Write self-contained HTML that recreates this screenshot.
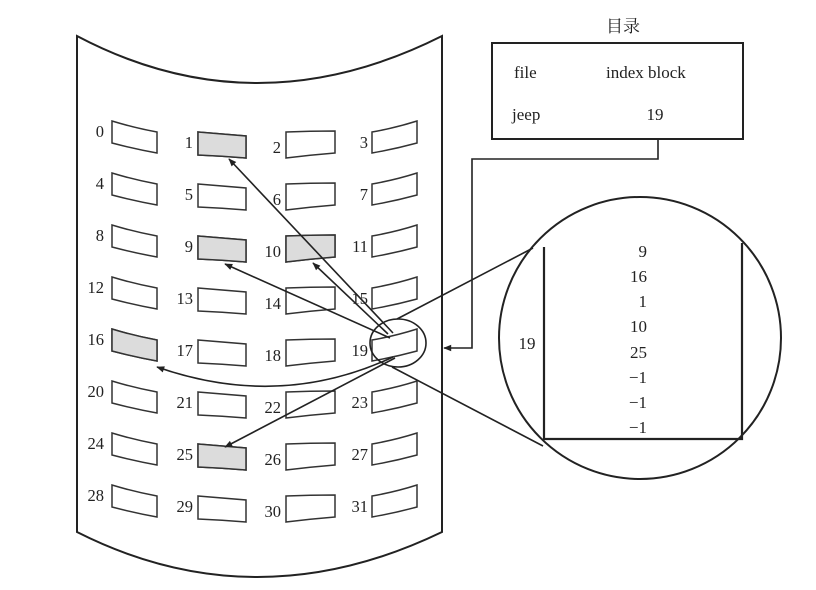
<!DOCTYPE html>
<html><head><meta charset="utf-8"><style>
html,body{margin:0;padding:0;background:#fff;}
svg{display:block;}
text{font-family:"Liberation Serif","Noto Serif CJK SC",serif;fill:#222;}
</style></head><body>
<svg width="816" height="590" viewBox="0 0 816 590" xmlns="http://www.w3.org/2000/svg">
<defs>
<marker id="ar" viewBox="0 0 10 10" refX="9" refY="5" markerWidth="12" markerHeight="8" orient="auto" markerUnits="userSpaceOnUse">
<path d="M0,1 L10,5 L0,9 z" fill="#222"/></marker>
<g id="row">
<path d="M112,0 Q135,7 157,11 L157,32 Q135,28 112,22 Z" fill="#fff"/>
<path d="M198,11 Q222,13 246,15 L246,37 Q222,35 198,34 Z" fill="#fff"/>
<path d="M286,11 Q310,10 335,10 L335,32 Q310,34 286,37 Z" fill="#fff"/>
<path d="M372,11 Q395,7 417,0 L417,22 Q395,28 372,32 Z" fill="#fff"/>
</g>
</defs>
<g stroke="#222" stroke-width="2" fill="none">
<path d="M77,36 Q255,130 442,36 L442,532 Q255,622 77,532 Z"/>
</g>
<g stroke="#333" stroke-width="1.5">
<use href="#row" y="121"/><use href="#row" y="173"/><use href="#row" y="225"/><use href="#row" y="277"/>
<use href="#row" y="329"/><use href="#row" y="381"/><use href="#row" y="433"/><use href="#row" y="485"/>
</g>
<g stroke="#333" stroke-width="1.5" fill="#dcdcdc">
<path d="M198,132 Q222,134 246,136 L246,158 Q222,156 198,155 Z"/>
<path d="M198,236 Q222,238 246,240 L246,262 Q222,260 198,259 Z"/>
<path d="M286,236 Q310,235 335,235 L335,257 Q310,259 286,262 Z"/>
<path d="M112,329 Q135,336 157,340 L157,361 Q135,357 112,351 Z"/>
<path d="M198,444 Q222,446 246,448 L246,470 Q222,468 198,467 Z"/>
</g>
<g font-size="16.5" text-anchor="end">
<text x="104" y="137">0</text><text x="193" y="148">1</text><text x="281" y="153">2</text><text x="368" y="148">3</text>
<text x="104" y="189">4</text><text x="193" y="200">5</text><text x="281" y="205">6</text><text x="368" y="200">7</text>
<text x="104" y="241">8</text><text x="193" y="252">9</text><text x="281" y="257">10</text><text x="368" y="252">11</text>
<text x="104" y="293">12</text><text x="193" y="304">13</text><text x="281" y="309">14</text><text x="368" y="304">15</text>
<text x="104" y="345">16</text><text x="193" y="356">17</text><text x="281" y="361">18</text><text x="368" y="356">19</text>
<text x="104" y="397">20</text><text x="193" y="408">21</text><text x="281" y="413">22</text><text x="368" y="408">23</text>
<text x="104" y="449">24</text><text x="193" y="460">25</text><text x="281" y="465">26</text><text x="368" y="460">27</text>
<text x="104" y="501">28</text><text x="193" y="512">29</text><text x="281" y="517">30</text><text x="368" y="512">31</text>
</g>
<g stroke="#222" stroke-width="1.6" fill="none">
<line x1="393" y1="333" x2="229" y2="159" marker-end="url(#ar)"/>
<line x1="388" y1="334" x2="313" y2="263" marker-end="url(#ar)"/>
<line x1="390" y1="338" x2="225" y2="264" marker-end="url(#ar)"/>
<path d="M393,357 Q280,410 157,367" marker-end="url(#ar)"/>
<line x1="395" y1="358" x2="225" y2="447" marker-end="url(#ar)"/>
<ellipse cx="398" cy="343" rx="28" ry="24"/>
<line x1="397" y1="319" x2="533" y2="248"/>
<line x1="392" y1="367" x2="543" y2="446"/>
<circle cx="640" cy="338" r="141" stroke-width="2"/>
<path d="M544,247 L544,439 L742,439 L742,243" stroke-width="2.2"/>
<rect x="492" y="43" width="251" height="96" stroke-width="2" fill="#fff"/>
<path d="M658,139 L658,159 L472,159 L472,348 L444,348" marker-end="url(#ar)"/>
</g>
<g font-size="17">
<text x="623" y="32" text-anchor="middle">目录</text>
<text x="514" y="78">file</text>
<text x="606" y="78">index block</text>
<text x="512" y="120">jeep</text>
<text x="655" y="120" text-anchor="middle">19</text>
<text x="527" y="349" text-anchor="middle">19</text>
</g>
<g font-size="17" text-anchor="end">
<text x="647" y="257">9</text><text x="647" y="282">16</text><text x="647" y="307">1</text>
<text x="647" y="332">10</text><text x="647" y="358">25</text><text x="647" y="383">−1</text>
<text x="647" y="408">−1</text><text x="647" y="433">−1</text>
</g>
</svg>
</body></html>
